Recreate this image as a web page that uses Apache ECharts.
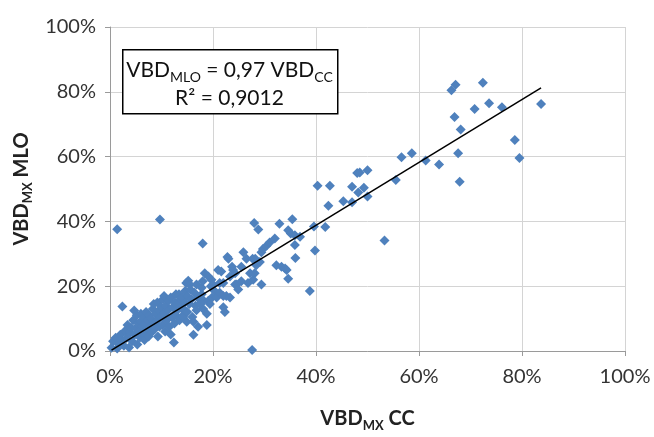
<!DOCTYPE html>
<html>
<head>
<meta charset="utf-8">
<script src="https://cdn.jsdelivr.net/npm/echarts@6/dist/echarts.min.js"></script>
<style>
html,body{margin:0;padding:0;background:#fff;}
#chart{width:654px;height:437px;}
</style>
</head>
<body>
<div id="chart"></div>
<script>
// Values in percent: [VBD_MX CC, VBD_MX MLO]
var lowCluster = [
[0.3,1.0],[0.6,3.0],[1.1,4.1],[1.4,0.8],[1.6,2.2],[1.4,37.6],[2.0,5.0],[2.2,3.3],[2.4,13.7],[2.7,1.6],[2.9,6.2],[3.2,4.0],[3.4,8.0],[3.7,1.1],[3.9,5.6],[4.1,7.2],[4.3,3.0],[4.5,9.5],[4.7,12.5],[4.8,5.0],[5.0,7.0],
[5.2,11.0],[5.3,2.0],[5.5,8.5],[5.6,6.0],[5.8,4.2],[6.0,11.5],[6.0,9.0],[6.2,7.5],[6.4,5.5],[6.5,10.2],[6.7,3.4],[6.8,8.0],[7.0,12.0],[7.1,6.5],[7.3,9.5],[7.5,4.5],[7.6,11.0],[7.8,7.5],[8.0,10.0],[8.1,5.8],[8.3,13.0],[8.5,14.5],[8.5,8.5],[8.7,6.8],[8.9,11.5],[9.0,9.2],[9.2,15.0],[9.3,4.5],[9.5,12.5],[9.6,7.5],[9.8,10.5],[9.7,40.6],[10.0,13.5],
[10.2,8.0],[10.3,16.0],[10.5,17.0],[10.5,11.5],[10.7,6.0],[10.8,14.0],[11.0,9.5],[11.2,12.5],[11.4,15.5],[11.5,7.5],[11.8,16.5],[11.8,5.1],[12.0,10.5],[12.2,13.5],[12.4,2.6],[12.5,8.5],[12.6,15.0],[12.8,17.5],[12.8,11.0],[13.0,12.5],[13.2,14.5],[13.4,17.5],[13.5,9.5],[13.7,16.0],[14.0,16.5],[14.0,13.0],[14.2,11.0],[14.2,10.5],[14.5,15.0],[14.6,18.5],[14.6,12.5],[14.8,21.0],[14.9,9.0]
];
var midCluster = [
[15.0,12.0],[15.0,17.0],[15.2,21.7],[15.4,14.5],[15.5,20.5],[15.6,19.0],[15.8,16.0],[16.0,10.5],[16.2,9.0],[16.2,5.0],[16.4,18.0],[16.6,14.0],[16.8,12.6],[16.8,20.5],[17.1,7.5],[17.0,16.5],[17.5,14.5],[17.8,19.5],[17.8,17.5],[18.0,33.2],[18.1,13.0],[18.0,21.5],[18.2,15.5],[18.4,24.0],[18.8,8.0],[18.8,11.5],[19.1,23.0],[19.1,15.5],[19.4,14.5],[19.6,20.0],[19.7,22.0],[19.8,16.5],
[20.0,20.5],[20.3,18.5],[20.7,16.5],[21.0,25.0],[21.3,18.0],[21.3,21.0],[21.6,24.5],[22.0,17.0],[22.0,21.0],[22.0,13.5],[22.3,12.0],[22.6,17.0],[22.8,29.0],[23.0,28.5],[23.3,23.0],[23.3,16.5],[23.7,26.0],[23.9,25.0],[24.3,24.0],[24.3,20.5],[24.6,20.5],[24.9,19.0],[25.5,26.0],[25.5,21.5],[25.9,30.5],[26.5,28.5],[26.8,21.0],[27.2,24.0],[27.6,0.3],[27.7,28.5],[27.8,22.0],[28.0,39.5],[28.1,24.0],[28.2,28.5],[28.4,26.5],[28.8,37.5],[29.1,27.5],[29.4,30.5],[29.4,20.5],[29.7,31.5]
];
var upperCluster = [
[30.4,32.5],[31.0,33.5],[32.0,34.7],[32.3,26.5],[32.9,39.3],[33.3,26.0],[34.0,25.5],[34.3,25.0],[34.6,22.3],[34.6,37.3],[35.1,36.3],[35.4,40.7],[35.9,35.7],[35.9,32.7],[36.0,28.7],[36.9,35.3],[38.8,18.5],[39.6,38.4],[39.8,31.0],[41.8,38.3],
[40.3,51.0],[42.7,51.0],[42.4,44.8],[45.3,46.2],[47.0,45.9],[47.0,50.7],[48.2,48.9],[49.3,50.4],[50.0,47.7],[48.0,54.9],[48.5,55.1],[50.0,55.8],[53.3,34.1],[55.5,52.8],[56.6,59.8],[58.6,61.0],[61.3,58.8],[63.9,57.6],[67.6,61.0],[67.9,52.2],[68.1,68.4],[66.9,72.2],[66.3,80.5],[67.1,82.2],[70.8,74.7],[72.4,82.8],[73.6,76.5],[76.1,75.2],[78.6,65.1],[79.5,59.6],[83.7,76.2]
];
// Linear trend line end points
var trendLine = [[0.3,0.3],[83.7,81.2]];
var axisTicks = [0,20,40,60,80,100];

var FONT = 'Lato, "Open Sans", sans-serif';
var chart = echarts.init(document.getElementById('chart'), null, {renderer:'canvas'});
var allPoints = lowCluster.concat(midCluster, upperCluster);

chart.setOption({
  animation:false,
  backgroundColor:'#fff',
  grid:{left:110, top:27, width:515, height:334, containLabel:false},
  xAxis:{
    type:'value', min:axisTicks[0], max:axisTicks[axisTicks.length-1], interval:20,
    name:'{b|VBD}{s|MX}{b| CC}', nameLocation:'middle', nameGap:54,
    nameTextStyle:{rich:{
      b:{fontFamily:FONT,fontSize:20,fontWeight:'bold',color:'#222',lineHeight:24,verticalAlign:'bottom'},
      s:{fontFamily:FONT,fontSize:13,fontWeight:'bold',color:'#222',lineHeight:13,verticalAlign:'bottom',padding:[0,0,-3,0]}
    }},
    axisLine:{show:true,onZero:false,lineStyle:{color:'#9a9a9a',width:1}},
    axisTick:{show:true,length:5,lineStyle:{color:'#9a9a9a'}},
    axisLabel:{formatter:'{value}%',fontFamily:FONT,fontSize:20,color:'#333',margin:16},
    splitLine:{show:true,lineStyle:{color:'#d4d4d4',width:1}}
  },
  yAxis:{
    type:'value', min:axisTicks[0], max:axisTicks[axisTicks.length-1], interval:20,
    name:'{b|VBD}{s|MX}{b| MLO}', nameLocation:'middle', nameGap:76, nameRotate:90,
    nameTextStyle:{rich:{
      b:{fontFamily:FONT,fontSize:20,fontWeight:'bold',color:'#222',lineHeight:24,verticalAlign:'bottom'},
      s:{fontFamily:FONT,fontSize:13,fontWeight:'bold',color:'#222',lineHeight:13,verticalAlign:'bottom',padding:[0,0,-3,0]}
    }},
    axisLine:{show:true,onZero:false,lineStyle:{color:'#9a9a9a',width:1}},
    axisTick:{show:true,length:5,lineStyle:{color:'#9a9a9a'}},
    axisLabel:{formatter:'{value}%',fontFamily:FONT,fontSize:20,color:'#333',margin:14},
    splitLine:{show:true,lineStyle:{color:'#d4d4d4',width:1}}
  },
  series:[
    {type:'scatter', data:allPoints, symbol:'diamond', symbolSize:10,
     itemStyle:{color:'#4f81bd', opacity:1}, z:2},
    {type:'line', data:trendLine, symbol:'none', lineStyle:{color:'#000',width:1.5}, z:3}
  ],
  graphic:[
    {type:'rect', left:122, top:49, shape:{width:215,height:64}, style:{fill:'#fff',stroke:'#000',lineWidth:1.5}, z:10},
    {type:'text', x:229.5, y:68, z:11, style:{
      text:'{n|VBD}{s|MLO}{n| = 0,97 VBD}{s|CC}', align:'center', verticalAlign:'middle',
      rich:{
        n:{fontFamily:FONT,fontSize:21,fill:'#111',lineHeight:26,verticalAlign:'bottom'},
        s:{fontFamily:FONT,fontSize:14,fill:'#111',lineHeight:14,verticalAlign:'bottom',padding:[0,0,-3,0]}
      }}},
    {type:'text', x:229.5, y:98, z:11, style:{
      text:'R² = 0,9012', align:'center', verticalAlign:'middle',
      fontFamily:FONT, fontSize:21, fill:'#111'}}
  ]
});
</script>
</body>
</html>
